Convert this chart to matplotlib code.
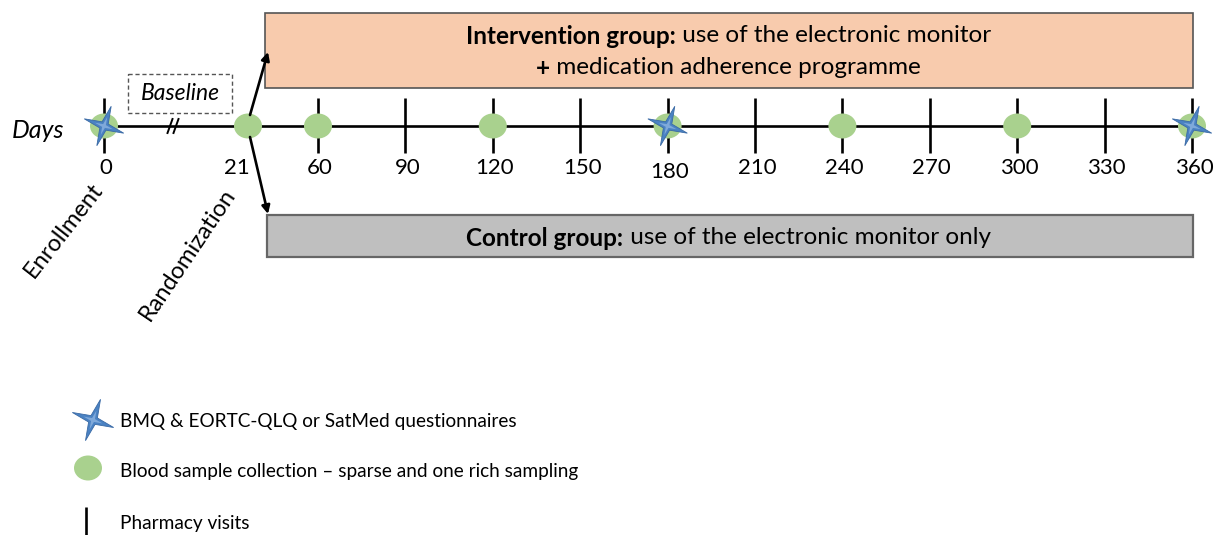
import matplotlib.pyplot as plt
import matplotlib.patches as mpatches
import numpy as np

# timeline data (days)
tick_days = [0, 21, 60, 90, 120, 150, 180, 210, 240, 270, 300, 330, 360]
pharmacy_days = [0, 60, 90, 120, 150, 180, 210, 240, 270, 300, 330, 360]
blood_days = [0, 21, 60, 120, 180, 240, 300, 360]
questionnaire_days = [0, 180, 360]

intervention_bold = "Intervention group:"
intervention_text = " use of the electronic monitor"
intervention_line2 = " medication adherence programme"
control_bold = "Control group:"
control_text = " use of the electronic monitor only"
legend_labels = ["BMQ & EORTC-QLQ or SatMed questionnaires",
                 "Blood sample collection \u2013 sparse and one rich sampling",
                 "Pharmacy visits"]

plt.rcParams['font.family'] = ['Lato', 'DejaVu Sans']

# timeline is not to scale before day 60 (break after baseline)
scale_days = [0, 21, 60, 360]
scale_px = [104, 248, 318, 1192]


def day_x(d):
    return np.interp(d, scale_days, scale_px)


AXIS_Y = 126
GREEN = '#A9D18E'
BLUE = '#4A82C3'

fig = plt.figure(figsize=(12.15, 5.35), dpi=100)
ax = fig.add_axes([0, 0, 1, 1])
ax.set_xlim(0, 1215)
ax.set_ylim(535, 0)
ax.axis('off')
renderer = fig.canvas.get_renderer()


def star(x, y, r, zorder=6):
    ang = np.deg2rad(np.arange(8) * 45 + 90 - 20)
    rad = np.where(np.arange(8) % 2 == 0, r, r * 0.22)
    pts = np.column_stack([x + rad * np.cos(ang), y - rad * np.sin(ang)])
    ax.add_patch(mpatches.Polygon(pts, closed=True, facecolor=BLUE,
                                  edgecolor='#3A6AA5', lw=0.6, zorder=zorder))
    pts2 = np.column_stack([x + rad * 0.45 * np.cos(ang), y - rad * 0.45 * np.sin(ang)])
    ax.add_patch(mpatches.Polygon(pts2, closed=True, facecolor='#7FA9DA',
                                  edgecolor='none', zorder=zorder + 0.1))


def blob(x, y, zorder=4):
    ax.add_patch(mpatches.Ellipse((x, y), 28, 25, facecolor=GREEN,
                                  edgecolor='none', zorder=zorder))


def mixed_line(xc, y, bold, regular, size):
    t1 = ax.text(xc, y, bold, fontsize=size, fontweight='bold', ha='left', va='center', zorder=8)
    t2 = ax.text(xc, y, regular, fontsize=size, ha='left', va='center', zorder=8)
    w1 = t1.get_window_extent(renderer).width
    w2 = t2.get_window_extent(renderer).width
    x0 = xc - (w1 + w2) / 2
    t1.set_x(x0)
    t2.set_x(x0 + w1)


# group boxes
ax.add_patch(mpatches.Rectangle((265, 13), day_x(360) + 1 - 265, 75, facecolor='#F8CBAD',
                                edgecolor='#555555', lw=1.2, zorder=2))
ax.add_patch(mpatches.Rectangle((267, 215), day_x(360) + 1 - 267, 42, facecolor='#BFBFBF',
                                edgecolor='#666666', lw=1.6, zorder=2))
box_c = (265 + day_x(360)) / 2
mixed_line(box_c, 36, intervention_bold, intervention_text, 17.5)
mixed_line(box_c, 68, "+", intervention_line2, 17.5)
mixed_line(box_c, 238, control_bold, control_text, 17.5)

# main time axis
ax.plot([day_x(0), day_x(360)], [AXIS_Y, AXIS_Y], color='black', lw=1.9, zorder=3)
ax.vlines([day_x(d) for d in pharmacy_days], 98, 153, color='black', lw=1.9, zorder=3)
for d in blood_days:
    blob(day_x(d), AXIS_Y)
for d in questionnaire_days:
    star(day_x(d), AXIS_Y, 21)

for d in tick_days:
    dx = -11 if d == 21 else 2
    dy = 4 if d == 180 else 0
    ax.text(day_x(d) + dx, 168 + dy, str(d), fontsize=16, ha='center', va='center', zorder=8)

# baseline period and break mark
ax.add_patch(mpatches.Rectangle((128, 74), 104, 39, facecolor='white', edgecolor='#555555',
                                lw=1, ls=(0, (3, 2)), zorder=2))
ax.text(180, 94, "Baseline", fontsize=16.5, style='italic', ha='center', va='center')
break_x = 173
for off in (-3, 3):
    ax.plot([break_x + off - 2.5, break_x + off + 2.5], [AXIS_Y + 7, AXIS_Y - 7],
            color='black', lw=1.4, zorder=4)
ax.text(38, 131, "Days", fontsize=18, style='italic', ha='center', va='center')

# randomisation arrows
arrow = dict(arrowstyle='-|>', color='black', lw=1.9, mutation_scale=12, shrinkA=0, shrinkB=0)
ax.annotate("", xy=(268, 52), xytext=(250, 115), arrowprops=arrow, zorder=5)
ax.annotate("", xy=(268, 214), xytext=(250, 137), arrowprops=arrow, zorder=5)

ax.text(64, 230, "Enrollment", fontsize=17, rotation=52, ha='center', va='center',
        rotation_mode='anchor')
ax.text(188, 254, "Randomization", fontsize=17, rotation=56, ha='center', va='center',
        rotation_mode='anchor')

# legend
star(93, 420, 22)
ax.text(120, 421, legend_labels[0], fontsize=13.7, ha='left', va='center')
blob(88, 468)
ax.text(120, 471, legend_labels[1], fontsize=13.7, ha='left', va='center')
ax.vlines([86], 507, 536, color='black', lw=1.9)
ax.text(120, 523, legend_labels[2], fontsize=13.7, ha='left', va='center')

fig.savefig('out.png', dpi=100)
